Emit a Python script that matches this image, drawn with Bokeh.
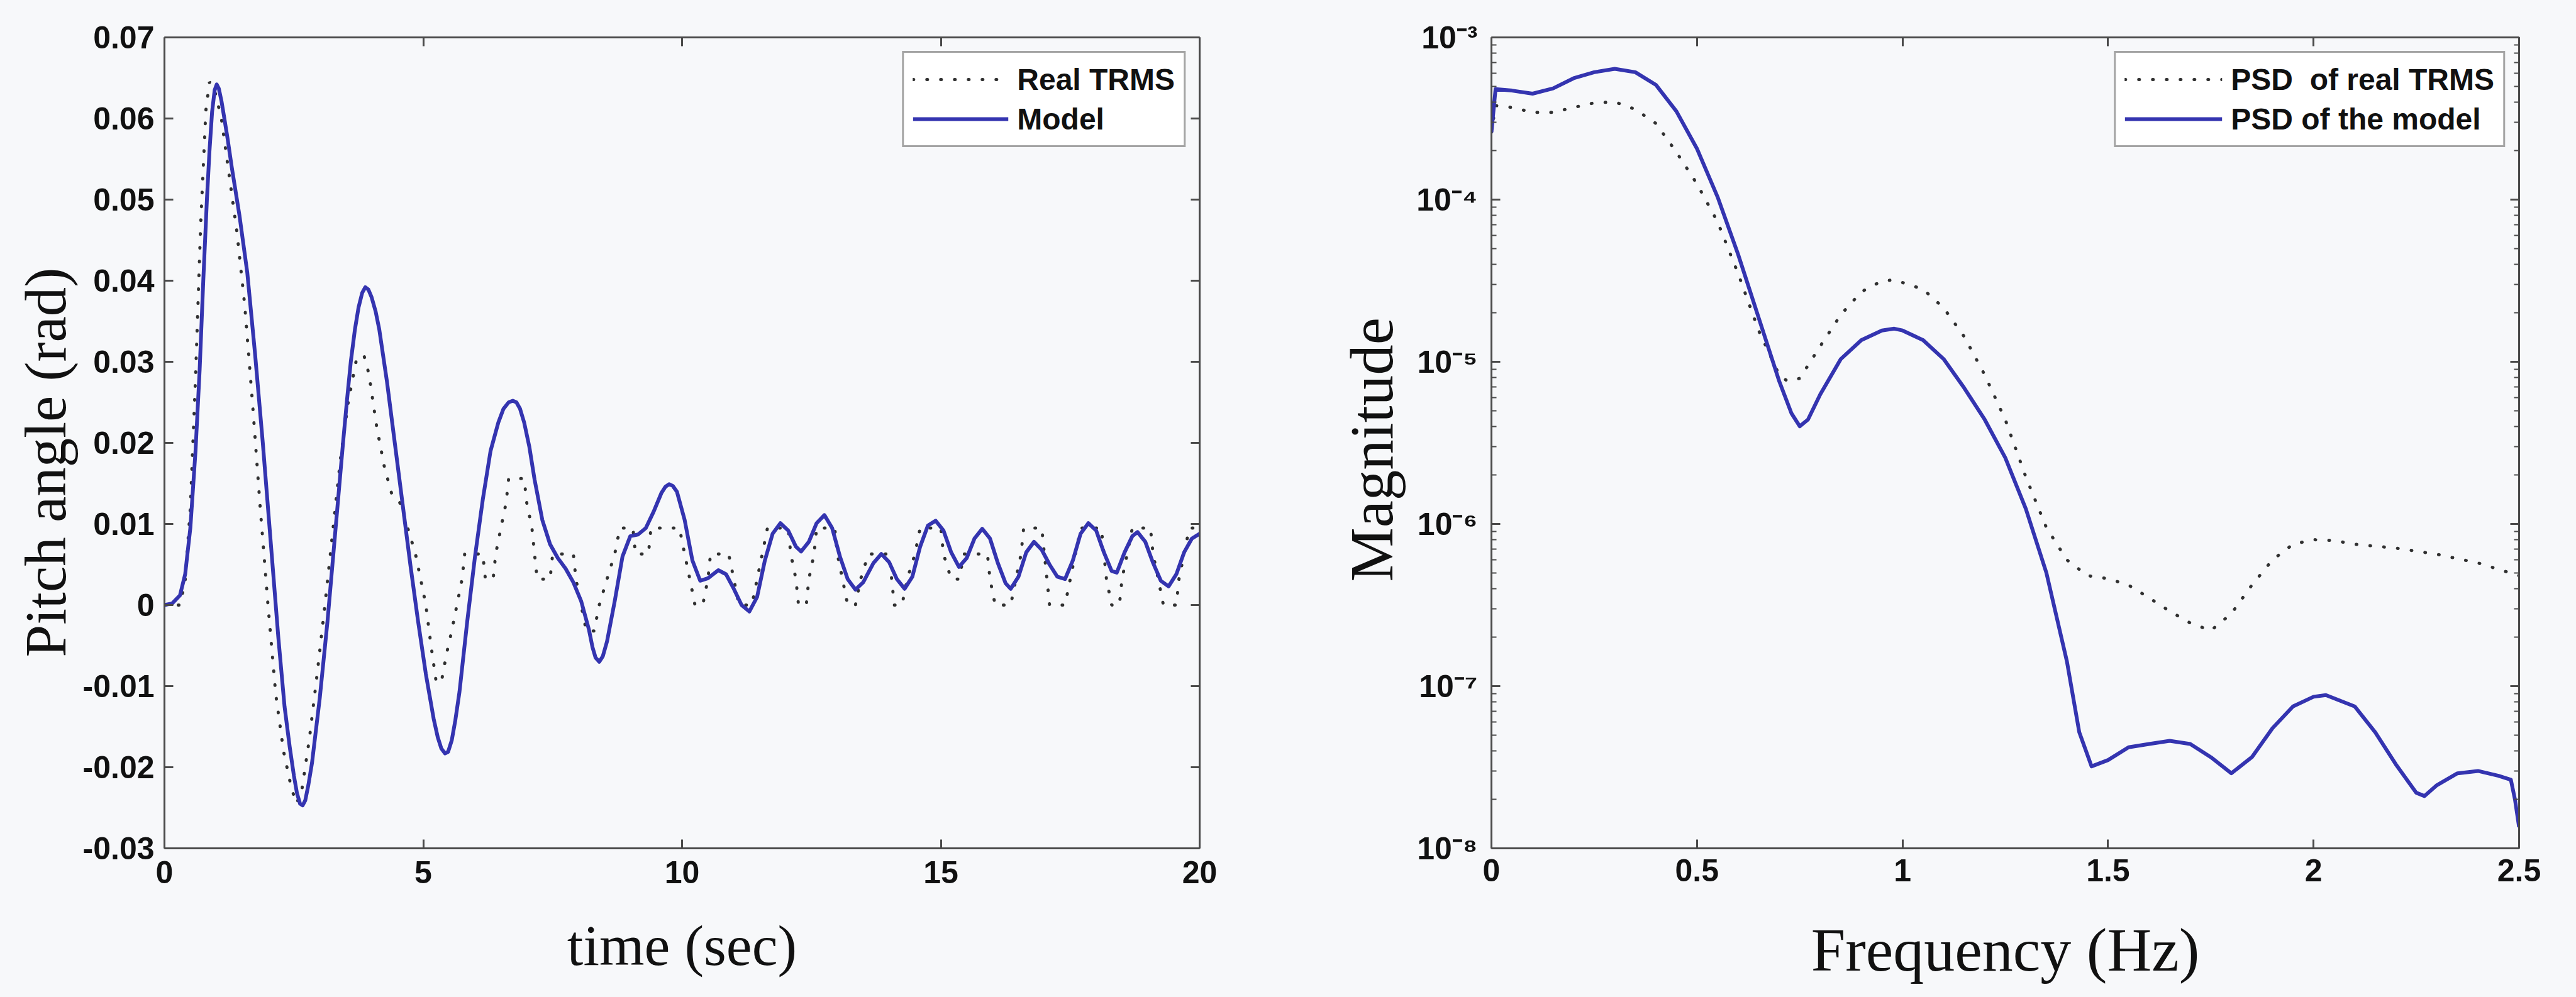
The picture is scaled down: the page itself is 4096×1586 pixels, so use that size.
from bokeh.plotting import figure
from bokeh.layouts import row
from bokeh.models import (LinearAxis, LogAxis, FixedTicker, CustomJSTickFormatter, Range1d, Title)
from bokeh.embed import file_html
from bokeh.resources import INLINE

# ---------------- data ----------------
# Left panel: pitch angle (rad) vs time (sec)
model_t = [0, 0.15, 0.3, 0.4, 0.5, 0.6, 0.68, 0.75, 0.82, 0.87, 0.92, 0.97, 1.01, 1.05, 1.1, 1.15,
           1.22, 1.3, 1.45, 1.6, 1.75, 1.9, 2.05, 2.2, 2.32, 2.42, 2.5, 2.56, 2.62, 2.67, 2.72,
           2.78, 2.85, 3.0, 3.15, 3.3, 3.45, 3.53, 3.6, 3.68, 3.75, 3.82, 3.88, 3.94, 4.0, 4.08,
           4.15, 4.3, 4.45, 4.6, 4.75, 4.9, 5.05, 5.2, 5.28, 5.35, 5.42, 5.48, 5.55, 5.62, 5.7,
           5.85, 6.0, 6.15, 6.3, 6.45, 6.55, 6.65, 6.73, 6.8, 6.87, 6.95, 7.05, 7.15, 7.3, 7.45,
           7.6, 7.75, 7.9, 8.05, 8.2, 8.27, 8.33, 8.4, 8.47, 8.55, 8.7, 8.85, 9.0, 9.15, 9.3, 9.45,
           9.6, 9.68, 9.75, 9.82, 9.9, 10.05, 10.2, 10.35, 10.5, 10.7, 10.85, 11.0, 11.15, 11.3,
           11.45, 11.6, 11.75, 11.9, 12.05, 12.2, 12.3, 12.45, 12.6, 12.75, 12.9, 13.05, 13.2,
           13.35, 13.5, 13.7, 13.85, 14.0, 14.15, 14.3, 14.45, 14.6, 14.75, 14.9, 15.05, 15.2,
           15.35, 15.5, 15.65, 15.8, 15.95, 16.1, 16.25, 16.35, 16.5, 16.65, 16.8, 16.95, 17.1,
           17.25, 17.4, 17.55, 17.7, 17.85, 18.0, 18.15, 18.3, 18.4, 18.55, 18.7, 18.8, 18.95,
           19.1, 19.25, 19.4, 19.55, 19.7, 19.85, 20.0]
model_y = [0.0, 0.0002, 0.0012, 0.0038, 0.0095, 0.019, 0.029, 0.040, 0.050, 0.056, 0.0608, 0.0635,
           0.0642, 0.0637, 0.0622, 0.0603, 0.0575, 0.054, 0.048, 0.041, 0.031, 0.020, 0.008,
           -0.004, -0.0125, -0.0175, -0.021, -0.0232, -0.0245, -0.0247, -0.0241, -0.0222, -0.0195,
           -0.0115, -0.002, 0.009, 0.020, 0.0255, 0.030, 0.034, 0.0367, 0.0385, 0.0392, 0.0389,
           0.038, 0.0362, 0.034, 0.0275, 0.020, 0.0125, 0.005, -0.002, -0.0085, -0.014, -0.0163,
           -0.0177, -0.0183, -0.0181, -0.0167, -0.0142, -0.0107, -0.002, 0.006, 0.013, 0.019,
           0.0225, 0.0242, 0.0250, 0.0252, 0.0250, 0.0242, 0.0225, 0.0195, 0.0155, 0.0105, 0.0075,
           0.0058, 0.0045, 0.0028, 0.0005, -0.003, -0.0052, -0.0065, -0.0070, -0.0063, -0.0045,
           0.0005, 0.006, 0.0085, 0.0087, 0.0095, 0.0115, 0.0138, 0.0146, 0.0149, 0.0147, 0.0140,
           0.0105, 0.0055, 0.003, 0.0033, 0.0043, 0.0038, 0.002, 0.0, -0.0008, 0.001, 0.0055,
           0.0088, 0.0101, 0.0092, 0.0072, 0.0066, 0.0078, 0.0101, 0.0111, 0.0095, 0.006, 0.0032,
           0.0019, 0.0028, 0.0052, 0.0063, 0.0053, 0.0032, 0.002, 0.0035, 0.0072, 0.0098, 0.0104,
           0.0092, 0.0065, 0.0047, 0.0058, 0.0082, 0.0094, 0.0082, 0.0052, 0.0027, 0.002, 0.0035,
           0.0065, 0.0078, 0.0068, 0.005, 0.0035, 0.0032, 0.0055, 0.0088, 0.0101, 0.0092, 0.0065,
           0.0042, 0.004, 0.0065, 0.0085, 0.009, 0.0078, 0.0052, 0.003, 0.0023, 0.0038, 0.0065,
           0.0082, 0.0088]

real_t = [0, 0.3, 0.4, 0.5, 0.6, 0.7, 0.8, 0.87, 0.95, 1.1, 1.25, 1.4, 1.55, 1.7, 1.85, 2.0, 2.15,
          2.3, 2.45, 2.55, 2.65, 2.8, 2.95, 3.1, 3.25, 3.4, 3.55, 3.7, 3.85, 3.95, 4.1, 4.25, 4.4,
          4.55, 4.7, 4.85, 4.95, 5.05, 5.15, 5.25, 5.35, 5.45, 5.55, 5.65, 5.75, 5.8, 6.15, 6.2,
          6.35, 6.4, 6.5, 6.6, 6.65, 6.95, 7.0, 7.1, 7.15, 7.2, 7.45, 7.5, 7.9, 7.95, 8.05, 8.15,
          8.3, 8.4, 8.55, 8.7, 8.8, 9.05, 9.1, 9.35, 9.4, 9.95, 10.05, 10.15, 10.25, 10.4, 10.5,
          10.55, 10.9, 11.0, 11.1, 11.35, 11.45, 11.55, 11.65, 12.05, 12.1, 12.2, 12.25, 12.4,
          12.45, 12.55, 12.6, 12.95, 13.0, 13.1, 13.2, 13.35, 13.45, 13.6, 14.0, 14.05, 14.1,
          14.25, 14.35, 14.5, 14.6, 15.0, 15.05, 15.2, 15.35, 15.45, 15.9, 15.95, 16.05, 16.35,
          16.45, 16.55, 16.6, 16.95, 17.0, 17.05, 17.1, 17.4, 17.5, 17.6, 17.7, 18.1, 18.15, 18.2,
          18.3, 18.45, 18.5, 18.6, 18.7, 19.05, 19.1, 19.2, 19.3, 19.55, 19.6, 19.7, 19.8, 20.0]
real_y = [0.0, 0.0, 0.003, 0.012, 0.028, 0.047, 0.061, 0.0645, 0.064, 0.060, 0.053, 0.046, 0.037,
          0.025, 0.012, 0.0, -0.011, -0.018, -0.0225, -0.0245, -0.023, -0.0165, -0.0085, 0.0,
          0.009, 0.018, 0.025, 0.030, 0.0309, 0.0285, 0.022, 0.017, 0.0135, 0.0126, 0.0095,
          0.0063, 0.0032, 0.0, -0.005, -0.0095, -0.0095, -0.006, -0.0032, 0.0, 0.0032, 0.0063,
          0.0063, 0.0032, 0.0032, 0.0063, 0.0095, 0.0126, 0.0156, 0.0156, 0.0126, 0.0095, 0.0063,
          0.0032, 0.0032, 0.0063, 0.0063, 0.0032, 0.0, -0.0032, -0.0032, 0.0, 0.0032, 0.0063,
          0.0095, 0.0095, 0.0063, 0.0063, 0.0095, 0.0095, 0.0063, 0.0032, 0.0, 0.0, 0.0032, 0.0063,
          0.0063, 0.0032, 0.0, 0.0, 0.0032, 0.0063, 0.0095, 0.0095, 0.0063, 0.0032, 0.0, 0.0,
          0.0032, 0.0063, 0.0095, 0.0095, 0.0063, 0.0032, 0.0, 0.0, 0.0032, 0.0063, 0.0063,
          0.0032, 0.0, 0.0, 0.0032, 0.0063, 0.0095, 0.0095, 0.0063, 0.0032, 0.0032, 0.0063, 0.0063,
          0.0032, 0.0, 0.0, 0.0032, 0.0063, 0.0095, 0.0095, 0.0063, 0.0032, 0.0, 0.0, 0.0032,
          0.0063, 0.0095, 0.0095, 0.0063, 0.0032, 0.0, 0.0, 0.0032, 0.0063, 0.0095, 0.0095, 0.0063,
          0.0032, 0.0, 0.0, 0.0032, 0.0063, 0.0095, 0.0095]

# Right panel: PSD magnitude vs frequency (Hz)
psd_model_f = [0, 0.01, 0.05, 0.1, 0.15, 0.2, 0.25, 0.3, 0.35, 0.4, 0.45, 0.5, 0.55, 0.6, 0.65,
               0.7, 0.73, 0.75, 0.77, 0.8, 0.85, 0.9, 0.95, 0.98, 1.0, 1.05, 1.1, 1.15, 1.2, 1.25,
               1.3, 1.35, 1.4, 1.43, 1.46, 1.5, 1.55, 1.6, 1.65, 1.7, 1.75, 1.8, 1.85, 1.9, 1.95,
               2.0, 2.03, 2.1, 2.15, 2.2, 2.25, 2.27, 2.3, 2.35, 2.4, 2.45, 2.48, 2.49, 2.5]
psd_model_m = [2.6e-4, 4.8e-4, 4.7e-4, 4.5e-4, 4.85e-4, 5.6e-4, 6.1e-4, 6.4e-4, 6.1e-4, 5.1e-4,
               3.5e-4, 2.06e-4, 1.04e-4, 4.6e-5, 1.87e-5, 7.6e-6, 4.8e-6, 4.0e-6, 4.4e-6, 6.3e-6,
               1.04e-5, 1.36e-5, 1.56e-5, 1.6e-5, 1.56e-5, 1.36e-5, 1.04e-5, 6.9e-6, 4.4e-6,
               2.56e-6, 1.24e-6, 5.0e-7, 1.42e-7, 5.2e-8, 3.2e-8, 3.5e-8, 4.2e-8, 4.4e-8, 4.6e-8,
               4.4e-8, 3.65e-8, 2.9e-8, 3.65e-8, 5.5e-8, 7.5e-8, 8.6e-8, 8.8e-8, 7.5e-8, 5.2e-8,
               3.3e-8, 2.2e-8, 2.1e-8, 2.45e-8, 2.9e-8, 3.0e-8, 2.8e-8, 2.65e-8, 2.0e-8, 1.35e-8]

psd_real_f = [0, 0.01, 0.05, 0.1, 0.15, 0.2, 0.25, 0.3, 0.35, 0.4, 0.45, 0.5, 0.55, 0.6, 0.65, 0.7,
              0.72, 0.75, 0.8, 0.85, 0.9, 0.95, 0.98, 1.05, 1.1, 1.15, 1.2, 1.25, 1.3, 1.35, 1.4,
              1.45, 1.5, 1.55, 1.6, 1.65, 1.7, 1.75, 1.8, 1.85, 1.9, 1.95, 2.0, 2.05, 2.1, 2.2, 2.3,
              2.4, 2.5]
psd_real_m = [2.6e-4, 3.8e-4, 3.7e-4, 3.45e-4, 3.45e-4, 3.7e-4, 3.95e-4, 4.0e-4, 3.6e-4, 2.95e-4,
              1.96e-4, 1.25e-4, 7.3e-5, 3.5e-5, 1.56e-5, 8.3e-6, 7.6e-6, 7.9e-6, 1.25e-5, 1.95e-5,
              2.7e-5, 3.15e-5, 3.2e-5, 2.8e-5, 2.15e-5, 1.43e-5, 8.3e-6, 4.4e-6, 1.95e-6, 9.5e-7,
              6.0e-7, 4.8e-7, 4.6e-7, 4.2e-7, 3.5e-7, 2.9e-7, 2.45e-7, 2.2e-7, 2.8e-7, 4.2e-7,
              6.0e-7, 7.5e-7, 8.0e-7, 7.9e-7, 7.5e-7, 7.1e-7, 6.5e-7, 5.75e-7, 4.8e-7]

# ticks and labels
x1_ticks = [0, 5, 10, 15, 20]
x1_labels = ["0", "5", "10", "15", "20"]
y1_ticks = [-0.03, -0.02, -0.01, 0, 0.01, 0.02, 0.03, 0.04, 0.05, 0.06, 0.07]
y1_labels = ["-0.03", "-0.02", "-0.01", "0", "0.01", "0.02", "0.03", "0.04", "0.05", "0.06", "0.07"]
x2_ticks = [0, 0.5, 1, 1.5, 2, 2.5]
x2_labels = ["0", "0.5", "1", "1.5", "2", "2.5"]
y2_ticks = [1e-8, 1e-7, 1e-6, 1e-5, 1e-4, 1e-3]
y2_labels = ["10\u207b\u2078", "10\u207b\u2077", "10\u207b\u2076", "10\u207b\u2075", "10\u207b\u2074", "10\u207b\u00b3"]
y2_minor = [m * d for d in [1e-8, 1e-7, 1e-6, 1e-5, 1e-4] for m in [2, 3, 4, 5, 6, 7, 8, 9]]

# ---------------- styling ----------------
BG = "#f7f8fa"
AXC = "#4a4a4a"
BLUE = "#3434b0"
DOT = "#303030"
TICK_FONT = "Liberation Sans"
LABEL_FONT = "Liberation Serif"

LIN_CODE = """
let best = 0, bd = Infinity;
for (let i = 0; i < vals.length; i++) { const d = Math.abs(vals[i] - tick); if (d < bd) { bd = d; best = i; } }
return labs[best];
"""
LOG_CODE = """
let best = 0, bd = Infinity;
for (let i = 0; i < vals.length; i++) { const d = Math.abs(Math.log10(vals[i]) - Math.log10(tick)); if (d < bd) { bd = d; best = i; } }
return labs[best];
"""


def fmt(vals, labs, log=False):
    return CustomJSTickFormatter(args=dict(vals=vals, labs=labs), code=LOG_CODE if log else LIN_CODE)


def base_axis(ax):
    ax.axis_line_color = AXC
    ax.axis_line_width = 3
    ax.major_tick_line_color = AXC
    ax.major_tick_line_width = 3
    ax.major_tick_in = 14
    ax.major_tick_out = 0
    ax.minor_tick_line_color = AXC
    ax.minor_tick_line_width = 2
    ax.minor_tick_in = 8
    ax.minor_tick_out = 0


def style_axis(ax, ticker, formatter, standoff):
    base_axis(ax)
    ax.ticker = ticker
    ax.formatter = formatter
    ax.major_label_text_font = TICK_FONT
    ax.major_label_text_font_style = "bold"
    ax.major_label_text_color = "#111111"
    ax.major_label_text_font_size = "50px"
    ax.major_label_standoff = standoff


def mirror_axis(ax, positions, tick_len, width):
    # a label-free axis: the tick marks are drawn as "minor" ticks only
    base_axis(ax)
    ax.ticker = FixedTicker(ticks=[], minor_ticks=positions)
    ax.minor_tick_in = tick_len
    ax.minor_tick_line_width = width
    ax.major_label_standoff = 0


def style_xlabel(ax, text, size, standoff):
    ax.axis_label = text
    ax.axis_label_text_font = LABEL_FONT
    ax.axis_label_text_font_style = "normal"
    ax.axis_label_text_font_size = size
    ax.axis_label_text_color = "#111111"
    ax.axis_label_standoff = standoff


def side_title(text, size, offset, standoff):
    return Title(text=text, text_font=LABEL_FONT, text_font_size=size, text_font_style="normal",
                 text_color="#111111", align="left", offset=offset, standoff=standoff)


def style_legend(p, glyph_w):
    lg = p.legend[0]
    lg.location = "top_right"
    lg.margin = 22
    lg.padding = 14
    lg.spacing = 7
    lg.glyph_width = glyph_w
    lg.glyph_height = 56
    lg.label_height = 56
    lg.label_standoff = 14
    lg.label_text_font = TICK_FONT
    lg.label_text_font_style = "bold"
    lg.label_text_font_size = "48px"
    lg.label_text_color = "#111111"
    lg.border_line_color = AXC
    lg.border_line_width = 3
    lg.background_fill_color = "#ffffff"
    lg.background_fill_alpha = 1.0


# ---------------- left panel ----------------
p1 = figure(width=2110, height=1586, output_backend="svg", toolbar_location=None,
            x_range=Range1d(0, 20), y_range=Range1d(-0.03, 0.07),
            min_border_left=261, min_border_right=203, min_border_top=59, min_border_bottom=218,
            background_fill_color=BG, border_fill_color=BG, outline_line_color=None)
p1.grid.visible = False

p1.line(real_t, real_y, line_color=DOT, line_width=5, line_dash="1 21", line_cap="round",
        legend_label="Real TRMS")
p1.line(model_t, model_y, line_color=BLUE, line_width=6, line_join="round", legend_label="Model")

style_axis(p1.xaxis[0], FixedTicker(ticks=x1_ticks, minor_ticks=[]), fmt(x1_ticks, x1_labels), 20)
style_axis(p1.yaxis[0], FixedTicker(ticks=y1_ticks, minor_ticks=[]), fmt(y1_ticks, y1_labels), 16)
style_xlabel(p1.xaxis[0], "time (sec)", "92px", 45)
p1.add_layout(side_title("Pitch angle (rad)", "93px", 304, 10), "left")

top1 = LinearAxis()
mirror_axis(top1, x1_ticks, 14, 3)
p1.add_layout(top1, "above")
right1 = LinearAxis()
mirror_axis(right1, y1_ticks, 14, 3)
p1.add_layout(right1, "right")

style_legend(p1, 152)

# ---------------- right panel ----------------
p2 = figure(width=1986, height=1586, output_backend="svg", toolbar_location=None,
            x_range=Range1d(0, 2.5), y_range=Range1d(1e-8, 1e-3), y_axis_type="log",
            min_border_left=255, min_border_right=91, min_border_top=55, min_border_bottom=237,
            background_fill_color=BG, border_fill_color=BG, outline_line_color=None)
p2.grid.visible = False

p2.line(psd_real_f, psd_real_m, line_color=DOT, line_width=5, line_dash="1 21", line_cap="round",
        legend_label="PSD  of real TRMS")
p2.line(psd_model_f, psd_model_m, line_color=BLUE, line_width=6, line_join="round",
        legend_label="PSD of the model")

style_axis(p2.xaxis[0], FixedTicker(ticks=x2_ticks, minor_ticks=[]), fmt(x2_ticks, x2_labels), 17)
style_axis(p2.yaxis[0], FixedTicker(ticks=y2_ticks, minor_ticks=y2_minor), fmt(y2_ticks, y2_labels, True), 22)
style_xlabel(p2.xaxis[0], "Frequency (Hz)", "98px", 52)
p2.add_layout(side_title("Magnitude", "97px", 424, 30), "left")

top2 = LinearAxis()
mirror_axis(top2, x2_ticks, 14, 3)
p2.add_layout(top2, "above")
right2a = LogAxis()
mirror_axis(right2a, y2_ticks, 14, 3)
p2.add_layout(right2a, "right")
right2b = LogAxis()
mirror_axis(right2b, y2_minor, 8, 2)
p2.add_layout(right2b, "right")

style_legend(p2, 155)

layout = row(p1, p2, styles={"background-color": BG})
open("out.html", "w").write(file_html(layout, INLINE))
